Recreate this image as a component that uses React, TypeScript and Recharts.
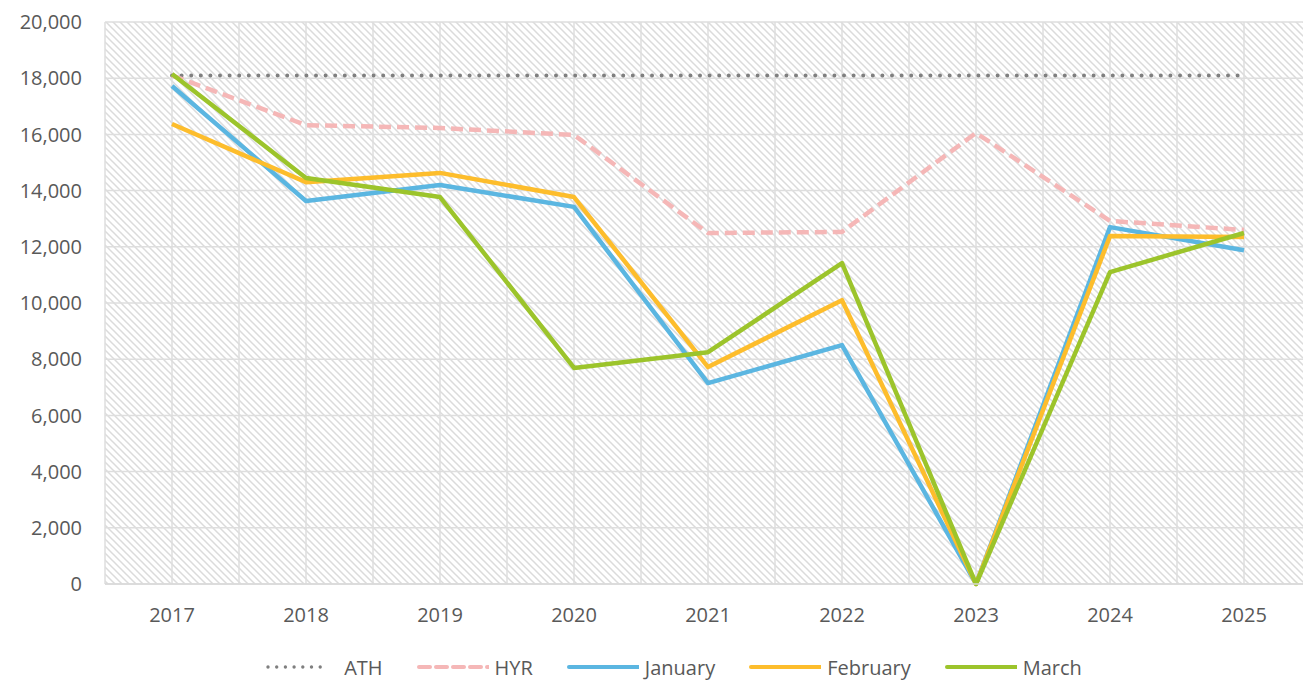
import React from 'react';
import { LineChart, Line, XAxis, YAxis, CartesianGrid, Legend } from 'recharts';

const years = ['2017', '2018', '2019', '2020', '2021', '2022', '2023', '2024', '2025'];
const ath = [18100, 18100, 18100, 18100, 18100, 18100, 18100, 18100, 18100];
const hyr = [18100, 16330, 16230, 15980, 12490, 12530, 16050, 12920, 12600];
const january = [17720, 13630, 14200, 13420, 7150, 8500, 0, 12700, 11880];
const february = [16370, 14300, 14630, 13770, 7720, 10100, 0, 12380, 12350];
const march = [18150, 14450, 13770, 7690, 8250, 11420, 0, 11100, 12490];
const yTicks = [0, 2000, 4000, 6000, 8000, 10000, 12000, 14000, 16000, 18000, 20000];

const data = years.map((y, i) => ({
  x: i,
  year: y,
  ATH: ath[i],
  HYR: hyr[i],
  January: january[i],
  February: february[i],
  March: march[i],
}));

const xTicks: number[] = [];
for (let i = -1; i <= years.length * 2 - 1; i++) xTicks.push(i / 2);

const FONT = '"Open Sans", "Noto Sans", sans-serif';
const TEXT = '#595959';

const series = [
  { key: 'ATH', color: '#7f7f7f', dash: '0 9.6', legendDash: '0 8.7', width: 4, legendWidth: 3.4, legendLen: 54 },
  { key: 'HYR', color: '#f5b7b7', dash: '12 6', legendDash: '11 6', width: 4.5, legendWidth: 4, legendLen: 70 },
  { key: 'January', color: '#5bb6e1', dash: undefined, legendDash: undefined, width: 4.5, legendWidth: 4, legendLen: 70 },
  { key: 'February', color: '#fdbd2c', dash: undefined, legendDash: undefined, width: 4.5, legendWidth: 4, legendLen: 70 },
  { key: 'March', color: '#9cc42b', dash: undefined, legendDash: undefined, width: 4.5, legendWidth: 4, legendLen: 70 },
];

const renderLegend = () => (
  <div
    style={{
      height: 34,
      display: 'flex',
      justifyContent: 'center',
      alignItems: 'center',
      fontFamily: FONT,
      fontSize: 20,
      color: TEXT,
      paddingLeft: 63,
    }}
  >
    {series.map((s) => (
      <div key={s.key} style={{ display: 'flex', alignItems: 'center', marginRight: 34 }}>
        <svg width={72} height={10} style={{ marginRight: 6 }}>
          <line
            x1={2}
            y1={5}
            x2={2 + s.legendLen}
            y2={5}
            stroke={s.color}
            strokeWidth={s.legendWidth}
            strokeDasharray={s.legendDash}
            strokeLinecap="round"
          />
        </svg>
        <span>{s.key}</span>
      </div>
    ))}
  </div>
);

export default function App() {
  return (
    <LineChart
      width={1303}
      height={676}
      data={data}
      margin={{ top: 14, right: 0, bottom: 0, left: 0 }}
      style={{ fontFamily: FONT }}
    >
      <defs>
        <pattern id="hatch" patternUnits="userSpaceOnUse" width={7} height={7}>
          <rect x={0} y={0} width={7} height={7} fill="#ffffff" />
          <path d="M0,0 L7,7 M-2,5 L2,9 M5,-2 L9,2" stroke="#dbdbdb" strokeWidth={1.5} />
        </pattern>
      </defs>
      <CartesianGrid stroke="#dedede" strokeWidth={1.5} fill="url(#hatch)" fillOpacity={1} />
      <XAxis
        type="number"
        dataKey="x"
        domain={[-0.5, years.length - 0.5]}
        ticks={xTicks}
        interval={0}
        tickFormatter={(v: number) => (Number.isInteger(v) && v >= 0 ? years[v] : '')}
        tickLine={false}
        axisLine={{ stroke: '#d9d9d9', strokeWidth: 1.5 }}
        tick={{ fill: TEXT, fontSize: 20, fontFamily: FONT }}
        tickSize={6}
        tickMargin={18}
        height={66}
        allowDataOverflow
      />
      <YAxis
        domain={[0, 20000]}
        ticks={yTicks}
        interval={0}
        width={97}
        tickLine={false}
        axisLine={false}
        tickSize={6}
        tickMargin={17}
        tick={{ fill: TEXT, fontSize: 20, fontFamily: FONT }}
        tickFormatter={(v: number) => v.toLocaleString('en-US')}
      />
      <Legend verticalAlign="bottom" content={renderLegend} />
      {series.map((s) => (
        <Line
          key={s.key}
          type="linear"
          dataKey={s.key}
          stroke={s.color}
          strokeWidth={s.width}
          strokeDasharray={s.dash}
          strokeLinecap={s.key === 'ATH' ? 'round' : 'butt'}
          strokeLinejoin="round"
          dot={false}
          activeDot={false}
          isAnimationActive={false}
        />
      ))}
    </LineChart>
  );
}
